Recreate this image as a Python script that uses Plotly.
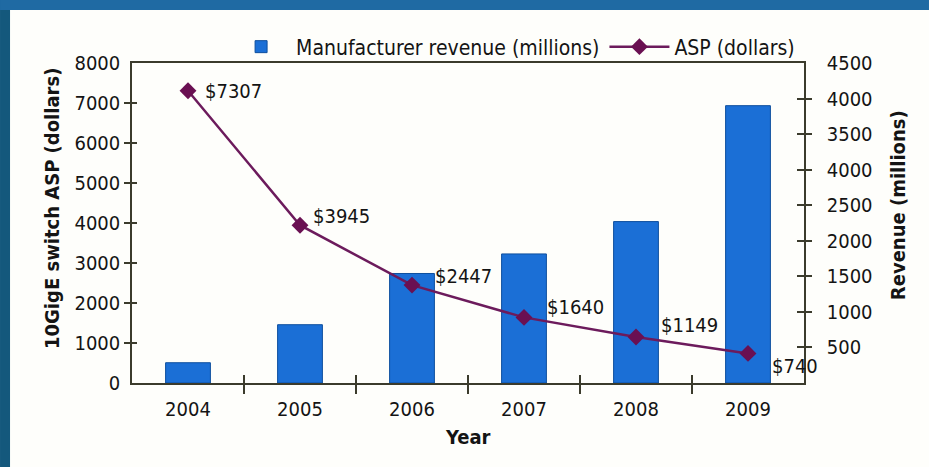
import plotly.graph_objects as go

years = ["2004", "2005", "2006", "2007", "2008", "2009"]
revenue = [285, 820, 1540, 1815, 2270, 3900]          # millions (right axis)
asp = [7307, 3945, 2447, 1640, 1149, 740]              # dollars (left axis)
asp_labels = ["$7307", "$3945", "$2447", "$1640", "$1149", "$740"]

left_ticks = [0, 1000, 2000, 3000, 4000, 5000, 6000, 7000, 8000]
right_ticks = [500, 1000, 1500, 2000, 2500, 3000, 3500, 4000, 4500]
right_ticktext = ["500", "1000", "1500", "2000", "2500", "4000", "3500", "4000", "4500"]
boundaries = [0.5, 1.5, 2.5, 3.5, 4.5]

# label offsets (pixels) for the ASP labels: (xshift, yshift)
label_offsets = [(15, 0), (11, 9), (21, 9), (21, 10), (23, 12), (22, -13)]

FONT = "DejaVu Sans Condensed, Liberation Sans Narrow, Arial Narrow, sans-serif"
AXC = "#3b3b2c"
TXT = "#141414"
FS = 20

fig = go.Figure()
fig.add_trace(go.Bar(
    x=years, y=revenue, name="Manufacturer revenue (millions)",
    marker=dict(color="#1b6fd6", line=dict(color="#0e4f9e", width=1)),
    yaxis="y",
))
fig.add_trace(go.Scatter(
    x=years, y=asp, name="ASP (dollars)", mode="lines+markers",
    line=dict(color="#6c1b5c", width=2.5),
    marker=dict(symbol="diamond", size=13, color="#6a1052"),
    yaxis="y2",
))
# empty helper trace so the outer half of the crossing x ticks is drawn
fig.add_trace(go.Scatter(x=[0.5], y=[None], xaxis="x2", yaxis="y", mode="markers",
                         showlegend=False, hoverinfo="skip"))

annotations = []
for i, (v, t, (dx, dy)) in enumerate(zip(asp, asp_labels, label_offsets)):
    annotations.append(dict(x=i, y=v, xref="x", yref="y2", text=t, showarrow=False,
                            xanchor="left", yanchor="middle", xshift=dx, yshift=dy,
                            font=dict(family=FONT, size=FS, color=TXT)))

annotations += [
    dict(text="<b>10GigE switch ASP (dollars)</b>", textangle=-90, xref="paper", yref="paper",
         x=-0.119, y=0.544, showarrow=False, xanchor="center", yanchor="middle",
         font=dict(family=FONT, size=FS, color=TXT)),
    dict(text="<b>Revenue (millions)</b>", textangle=-90, xref="paper", yref="paper",
         x=1.140, y=0.556, showarrow=False, xanchor="center", yanchor="middle",
         font=dict(family=FONT, size=FS, color=TXT)),
    dict(text="<b>Year</b>", xref="paper", yref="paper", x=0.5, y=-0.169,
         showarrow=False, xanchor="center", yanchor="middle",
         font=dict(family=FONT, size=FS, color=TXT)),
]

fig.update_layout(
    width=929, height=467,
    margin=dict(l=132, r=125, t=63, b=84),
    paper_bgcolor="#fefefb", plot_bgcolor="#fefefb",
    font=dict(family=FONT, size=FS, color=TXT),
    bargap=0.6,
    showlegend=True,
    legend=dict(orientation="h", x=0.14, xanchor="left", y=1.05, yanchor="middle",
                bgcolor="rgba(0,0,0,0)", font=dict(family=FONT, size=21, color=TXT),
                itemwidth=60, traceorder="normal"),
    xaxis=dict(type="category", categoryorder="array", categoryarray=years,
               range=[-0.5, 5.5], autorange=False,
               showline=True, linecolor=AXC, linewidth=1.5, mirror=True,
               tickson="boundaries", ticks="inside", ticklen=8, tickwidth=1.5, tickcolor=AXC,
               ticklabelstandoff=7,
               showgrid=False, zeroline=False,
               tickfont=dict(family=FONT, size=FS, color=TXT)),
    xaxis2=dict(overlaying="x", anchor="y", side="bottom", range=[-0.5, 5.5], type="linear",
                tickmode="array", tickvals=boundaries, ticks="outside", ticklen=10,
                tickwidth=1.5, tickcolor=AXC, showticklabels=False, showline=False,
                showgrid=False, zeroline=False),
    # main y: revenue (right)
    yaxis=dict(range=[0, 4500], side="right", tickmode="array",
               tickvals=right_ticks, ticktext=right_ticktext,
               ticks="inside", ticklen=7, tickwidth=1.5, tickcolor=AXC,
               ticklabelstandoff=17,
               minor=dict(tickmode="array", tickvals=right_ticks[:-1], ticks="outside",
                          ticklen=6, tickwidth=1.5, tickcolor=AXC, showgrid=False),
               showline=True, linecolor=AXC, linewidth=1.5,
               showgrid=False, zeroline=False,
               tickfont=dict(family=FONT, size=FS, color=TXT)),
    # ASP (left)
    yaxis2=dict(overlaying="y", side="left", range=[0, 8000], tickmode="array",
                tickvals=left_ticks,
                ticks="inside", ticklen=5, tickwidth=1.5, tickcolor=AXC,
                ticklabelstandoff=6,
                minor=dict(tickmode="array", tickvals=left_ticks[1:-1], ticks="outside",
                           ticklen=6, tickwidth=1.5, tickcolor=AXC, showgrid=False),
                showline=True, linecolor=AXC, linewidth=1.5,
                showgrid=False, zeroline=False,
                tickfont=dict(family=FONT, size=FS, color=TXT)),
    annotations=annotations,
    shapes=[
        dict(type="rect", xref="paper", yref="paper", x0=-0.1964, x1=-0.1815,
             y0=-0.2625, y1=1.197, fillcolor="#14587c", line=dict(width=0), layer="below"),
        dict(type="rect", xref="paper", yref="paper", x0=-0.1964, x1=1.186,
             y0=1.1656, y1=1.197, fillcolor="#1f6aa3", line=dict(width=0), layer="below"),
    ],
)

fig.write_html(
    "out.html", config={"displayModeBar": False},
    post_script=("document.body.style.margin='0';"
                 "document.body.style.overflow='hidden';"
                 "document.documentElement.style.overflow='hidden';"
                 "document.body.style.background='#fefefb';"),
)
